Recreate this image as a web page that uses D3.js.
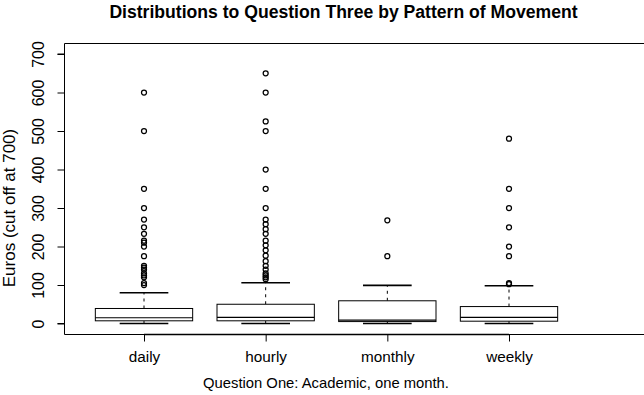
<!DOCTYPE html>
<html>
<head>
<meta charset="utf-8">
<script src="https://cdn.jsdelivr.net/npm/d3@7"></script>
<style>
  html, body { margin: 0; padding: 0; background: #fff; }
  svg { display: block; }
  text { font-family: "Liberation Sans", Arial, Helvetica, sans-serif; fill: #000; }
</style>
</head>
<body>
<svg id="chart" width="644" height="395"></svg>
<script>
// ---- data ----
const categories = ["daily", "hourly", "monthly", "weekly"];
const lowerWhisker = [0, 0, 0, 0];
const q1 = [7, 7, 5, 6];
const median = [15, 16, 9, 16];
const q3 = [39, 50, 59, 44];
const upperWhisker = [80, 106, 99, 98];
const outliersDaily = [600, 500, 350, 300, 270, 250, 233, 215, 210, 200, 175, 150, 145, 140, 130, 125, 120, 105, 100];
const outliersHourly = [650, 600, 525, 500, 400, 350, 300, 270, 258, 245, 233, 215, 203, 190, 176, 162, 150, 140, 130, 125, 120, 115];
const outliersMonthly = [268, 175];
const outliersWeekly = [480, 350, 300, 250, 200, 175, 105, 102];
const yTicks = [0, 100, 200, 300, 400, 500, 600, 700];
const titleText = "Distributions to Question Three by Pattern of Movement";
const xTitle = "Question One: Academic, one month.";
const yTitle = "Euros (cut off at 700)";

const outliers = [outliersDaily, outliersHourly, outliersMonthly, outliersWeekly];
const boxes = categories.map((c, i) => ({
  cat: c, lo: lowerWhisker[i], q1: q1[i], med: median[i], q3: q3[i], hi: upperWhisker[i], out: outliers[i]
}));

// ---- layout ----
const svg = d3.select("#chart");
const frame = { left: 64.5, top: 43.5, bottom: 334.5, right: 660 };
const x = d3.scalePoint().domain(categories).range([144, 509]);
const step = x.step();
const boxW = step * 0.8;
const stapleW = boxW * 0.5;
const y = d3.scaleLinear().domain([0, 700]).range([323.5, 54]);

// frame
svg.append("path")
  .attr("d", `M${frame.left},${frame.top}H${frame.right}M${frame.left},${frame.top}V${frame.bottom}H${frame.right}`)
  .attr("fill", "none").attr("stroke", "#000").attr("stroke-width", 1);

// y axis
const yAxis = d3.axisLeft(y).tickValues(yTicks).tickSize(7).tickPadding(3);
const gy = svg.append("g").attr("transform", `translate(${frame.left},0)`).call(yAxis);
gy.select(".domain").attr("d", `M-7,${y(0)}H0V${y(700)}H-7`).attr("stroke", "#000");
gy.selectAll(".tick line").attr("stroke", "#000");
gy.selectAll(".tick text")
  .attr("x", null).attr("dy", null)
  .attr("text-anchor", "middle")
  .attr("font-size", "16px")
  .attr("transform", "translate(-21,0) rotate(-90)")
  .attr("y", 0);

// x axis
const xAxis = d3.axisBottom(x).tickSize(7).tickPadding(0);
const gx = svg.append("g").attr("transform", `translate(0,${frame.bottom})`).call(xAxis);
gx.select(".domain").attr("d", `M${x("daily")},0H${x("weekly")}`).attr("stroke", "#000").attr("stroke-width", 1.6);
gx.selectAll(".tick line").attr("stroke", "#000");
gx.selectAll(".tick text").attr("font-size", "15.3px").attr("dy", null).attr("y", 27);

// boxes
const g = svg.append("g");
boxes.forEach(b => {
  const cx = x(b.cat);
  // whiskers (dashed)
  g.append("line").attr("x1", cx).attr("x2", cx).attr("y1", y(b.q3)).attr("y2", y(b.hi))
    .attr("stroke", "#000").attr("stroke-dasharray", "3,4");
  g.append("line").attr("x1", cx).attr("x2", cx).attr("y1", y(b.q1)).attr("y2", y(b.lo))
    .attr("stroke", "#000").attr("stroke-dasharray", "3,4");
  // staples
  [b.hi, b.lo].forEach(v => {
    g.append("line").attr("x1", cx - stapleW / 2).attr("x2", cx + stapleW / 2)
      .attr("y1", y(v)).attr("y2", y(v)).attr("stroke", "#000").attr("stroke-width", 1.6);
  });
  // box
  g.append("rect").attr("x", cx - boxW / 2).attr("width", boxW)
    .attr("y", y(b.q3)).attr("height", y(b.q1) - y(b.q3))
    .attr("fill", "#fff").attr("stroke", "#000").attr("stroke-width", 1);
  // median
  g.append("line").attr("x1", cx - boxW / 2).attr("x2", cx + boxW / 2)
    .attr("y1", y(b.med)).attr("y2", y(b.med)).attr("stroke", "#000").attr("stroke-width", 1.2);
  // outliers
  g.selectAll(null).data(b.out).enter().append("circle")
    .attr("cx", cx).attr("cy", d => y(d)).attr("r", 2.5)
    .attr("fill", "none").attr("stroke", "#000").attr("stroke-width", 1.25);
});

// titles
svg.append("text").attr("x", 343.5).attr("y", 18.3).attr("text-anchor", "middle")
  .attr("font-size", "17.6px").attr("font-weight", "bold").text(titleText);
svg.append("text").attr("x", 326).attr("y", 388).attr("text-anchor", "middle")
  .attr("font-size", "14.8px").text(xTitle);
svg.append("text").attr("transform", "translate(15,208) rotate(-90)").attr("text-anchor", "middle")
  .attr("font-size", "17px").text(yTitle);
</script>
</body>
</html>
